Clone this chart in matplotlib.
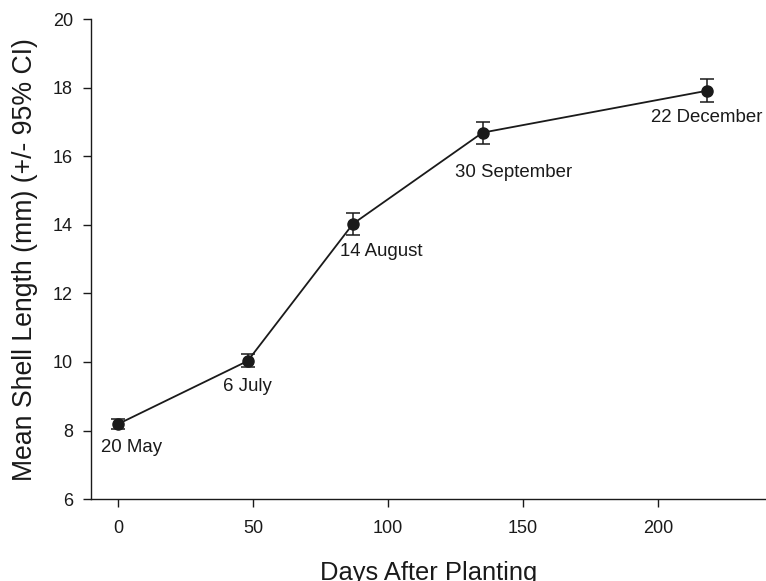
import matplotlib
matplotlib.use('Agg')
import matplotlib.pyplot as plt

plt.rcParams['font.family'] = ['Liberation Sans', 'DejaVu Sans']

# Data
days = [0, 48, 87, 135, 218]
shell_length = [8.19, 10.03, 14.03, 16.69, 17.91]
ci = [0.15, 0.19, 0.33, 0.32, 0.34]
dates = ['20 May', '6 July', '14 August', '30 September', '22 December']
# label offsets (pixels) relative to each point
label_dx = [13, 0, 28, 31, 0]
label_dy = [-23, -26, -28, -40, -27]

INK = '#1a1a1a'

fig = plt.figure(figsize=(7.66, 5.81), dpi=100)
ax = fig.add_axes([0.119, 0.141, 0.881, 0.826])

ax.errorbar(days, shell_length, yerr=ci, color=INK, marker='o', markersize=8,
            linewidth=1.3, elinewidth=1.1, capsize=5, capthick=1.1)

for x, y, lab, dx, dy in zip(days, shell_length, dates, label_dx, label_dy):
    ax.annotate(lab, (x, y), xytext=(dx, dy), textcoords='offset pixels',
                ha='center', va='center', fontsize=13.4, color=INK)

ax.set_xlim(-10, 240)
ax.set_ylim(6, 20)
ax.set_xticks([0, 50, 100, 150, 200])
ax.set_yticks(range(6, 21, 2))
ax.tick_params(direction='out', length=6, width=1, labelsize=13, colors=INK)
ax.tick_params(axis='x', pad=9)
ax.tick_params(axis='y', pad=7)

ax.spines['top'].set_visible(False)
ax.spines['right'].set_visible(False)
for s in ('left', 'bottom'):
    ax.spines[s].set_color(INK)
    ax.spines[s].set_linewidth(1)

ax.set_xlabel('Days After Planting', fontsize=18.4, color=INK, labelpad=17)
ax.set_ylabel('Mean Shell Length (mm) (+/- 95% CI)', fontsize=19.2, color=INK, labelpad=11)

fig.savefig('out.png', dpi=100)
